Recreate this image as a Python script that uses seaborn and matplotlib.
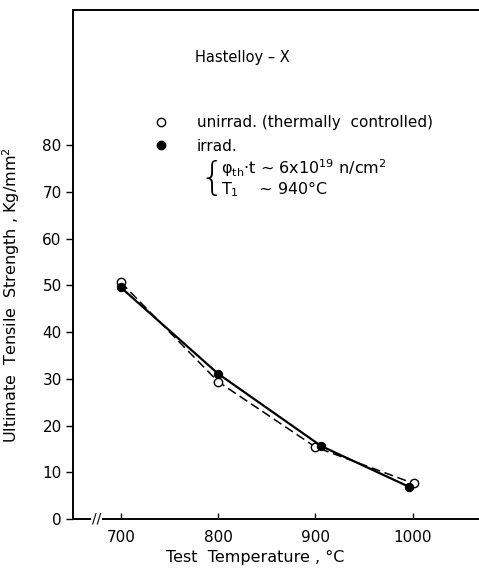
import pandas as pd
import matplotlib
matplotlib.use("Agg")
import matplotlib.pyplot as plt
import seaborn as sns
from matplotlib.lines import Line2D

# Data
temp_unirr = [700, 800, 900, 1001]
uts_unirr = [50.7, 29.4, 15.4, 7.6]
temp_irr = [700, 800, 906, 996]
uts_irr = [49.6, 31.1, 15.6, 6.9]

x_ticks = [700, 800, 900, 1000]
y_ticks = [0, 10, 20, 30, 40, 50, 60, 70, 80]

unirr = pd.DataFrame({"temp": temp_unirr, "uts": uts_unirr})
irr = pd.DataFrame({"temp": temp_irr, "uts": uts_irr})

sns.set_style("ticks")
plt.rcParams["font.family"] = ["DejaVu Sans"]
plt.rcParams["mathtext.fontset"] = "dejavusans"
plt.rcParams["text.color"] = "black"
plt.rcParams["axes.labelcolor"] = "black"
plt.rcParams["xtick.color"] = "black"
plt.rcParams["ytick.color"] = "black"

fig = plt.figure(figsize=(4.79, 5.70), dpi=100)
ax = fig.add_axes([0.152, 0.0895, 0.848, 0.893])

sns.lineplot(data=unirr, x="temp", y="uts", ax=ax, color="black", lw=1.1,
             linestyle=(0, (6, 3)), marker="o", markersize=6,
             markerfacecolor="white", markeredgecolor="black", markeredgewidth=1.0)
sns.lineplot(data=irr, x="temp", y="uts", ax=ax, color="black", lw=1.6,
             marker="o", markersize=6, markerfacecolor="black", markeredgecolor="black")

ax.set_xlim(650.7, 1068)
ax.set_ylim(0, 109)
ax.set_xticks(x_ticks)
ax.set_yticks(y_ticks)
ax.tick_params(axis="y", direction="out", length=5, width=1, labelsize=11, pad=3)
ax.tick_params(axis="x", direction="in", length=4, width=1, labelsize=11, pad=8)

for s in ["left", "bottom", "top"]:
    ax.spines[s].set_linewidth(1.4)
    ax.spines[s].set_color("black")
ax.spines["right"].set_visible(False)

ax.set_xlabel("Test  Temperature , °C", fontsize=11.5)
ax.xaxis.set_label_coords(0.45, -0.06)
ax.set_ylabel("Ultimate  Tensile  Strength , Kg/mm$^2$", fontsize=11.5)
ax.yaxis.set_label_coords(-0.125, 0.44)

# axis break on x axis
ax.text(675, 0, "//", fontsize=10, ha="center", va="center",
        bbox=dict(facecolor="white", edgecolor="none", pad=0.5))

ax.text(0.302, 0.907, "Hastelloy – X", transform=ax.transAxes, fontsize=10.5,
        ha="left", va="center")

h_open = Line2D([], [], marker="o", linestyle="none", markersize=6,
                markerfacecolor="white", markeredgecolor="black")
h_fill = Line2D([], [], marker="o", linestyle="none", markersize=6,
                markerfacecolor="black", markeredgecolor="black")
ax.legend([h_open, h_fill], ["unirrad. (thermally  controlled)", "irrad."],
          loc="upper left", bbox_to_anchor=(0.207, 0.793), frameon=False,
          fontsize=11, handlelength=0.6, handletextpad=2.0,
          labelspacing=0.55, borderpad=0, borderaxespad=0)

ax.text(0.312, 0.668, "{", transform=ax.transAxes, fontsize=28,
        ha="left", va="center", fontweight="light")
ax.text(0.365, 0.69, r"φ$_\mathregular{th}$·t ~ 6x10$^{19}$ n/cm$^2$",
        transform=ax.transAxes, fontsize=11.5, ha="left", va="center")
ax.text(0.365, 0.648, r"T$_1$    ~ 940°C",
        transform=ax.transAxes, fontsize=11.5, ha="left", va="center")

fig.savefig("out.png", dpi=100)
